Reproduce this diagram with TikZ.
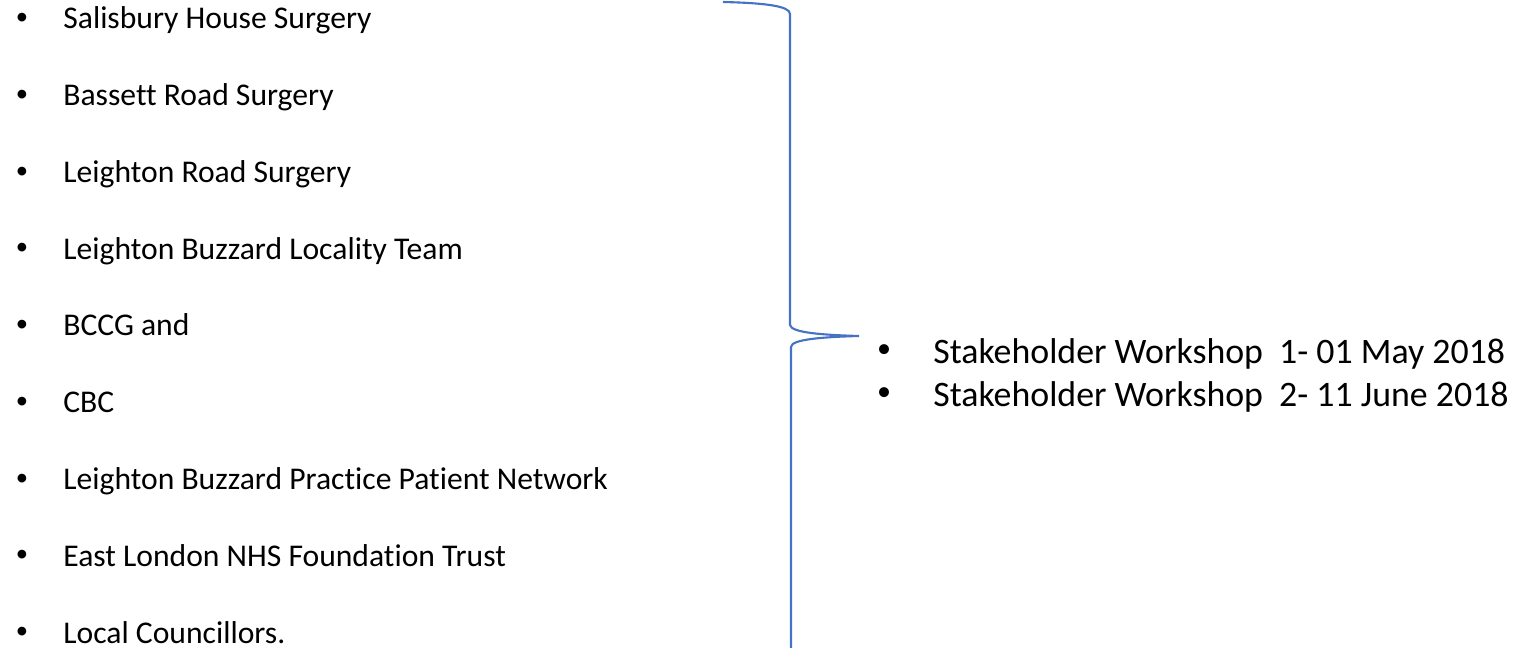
\documentclass[tikz,border=0pt]{standalone}
\usepackage{fontspec}
\setmainfont[Ligatures={NoCommon,NoRare}]{Carlito}
\usetikzlibrary{calc}
\definecolor{braceblue}{HTML}{4472C4}

\begin{document}
\begin{tikzpicture}[x=0.02cm,y=-0.02cm,
    itemtext/.style={anchor=base west,inner sep=0pt,font=\fontsize{18}{22}\selectfont},
    itemdot/.style={anchor=center,inner sep=0pt,font=\fontsize{14}{16}\selectfont},
    worktext/.style={anchor=base west,inner sep=0pt,font=\fontsize{20.4}{25}\selectfont},
    workdot/.style={anchor=center,inner sep=0pt,font=\fontsize{16}{18}\selectfont},
    bracket/.style={draw=braceblue,line width=1.2pt}]
    \useasboundingbox (0,0) rectangle (1516,648);
    % stakeholders
    \foreach \txt [count=\i] in {Salisbury House Surgery,Bassett Road Surgery,Leighton Road Surgery,
        Leighton Buzzard Locality Team,BCCG and,CBC,Leighton Buzzard Practice Patient Network,
        East London NHS Foundation Trust,Local Councillors.}{
        \pgfmathsetmacro\yb{29+76.75*(\i-1)}
        \node[itemtext] (item\i) at (63,\yb) {\txt};
        \node[itemdot] (dot\i) at (22,\yb-10) {•};
    }
    % brace
    \coordinate (tip) at (859,336);
    \draw[bracket] (723,2) .. controls (765,3) and (790,6) .. (790,14) -- (790,325)
        .. controls (791,333) and (825,335) .. (tip)
        .. controls (825,337) and (791,339) .. (791,347) -- (791,650);
    % workshops
    \node[worktext] (work1) at (933,364) {Stakeholder Workshop\ \ 1- 01 May 2018};
    \node[workdot] (wdot1) at (884,351) {•};
    \node[worktext] (work2) at (933,407) {Stakeholder Workshop\ \ 2- 11 June 2018};
    \node[workdot] (wdot2) at (884,394) {•};
\end{tikzpicture}
\end{document}
